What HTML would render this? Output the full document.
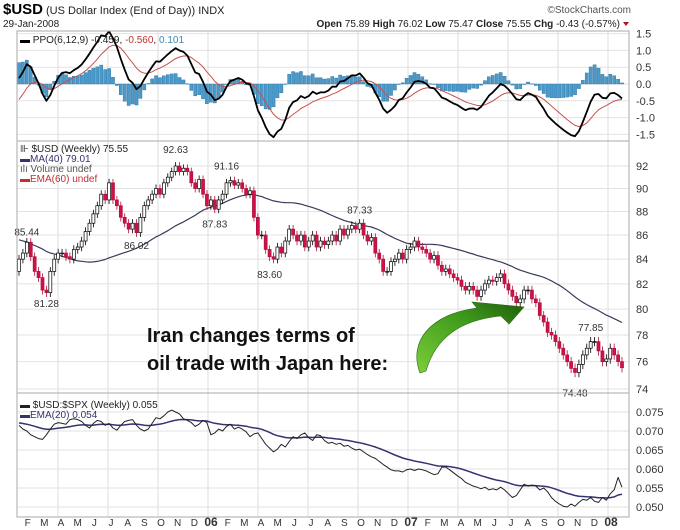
<!DOCTYPE html>
<html><head><meta charset="utf-8"><style>
html,body{margin:0;padding:0;background:#fff;}
svg{display:block;font-family:"Liberation Sans",sans-serif;}
</style></head><body>
<svg id="chart" width="680" height="530" viewBox="0 0 680 530" xmlns="http://www.w3.org/2000/svg">
<defs><linearGradient id="ag" x1="0" y1="1" x2="1" y2="0"><stop offset="0" stop-color="#7ccf3a"/><stop offset="0.6" stop-color="#3f9a1c"/><stop offset="1" stop-color="#1f5e0c"/></linearGradient></defs>
<g>
<text x="3" y="14" font-size="15" font-weight="bold" fill="#000">$USD</text>
<text x="46" y="14" font-size="11" fill="#222">(US Dollar Index (End of Day))  INDX</text>
<text x="631" y="13" font-size="10" fill="#555" text-anchor="end">©StockCharts.com</text>
<text x="3" y="27" font-size="10" fill="#222">29-Jan-2008</text>
<text x="620" y="27" font-size="10" fill="#222" text-anchor="end"><tspan font-weight="bold">Open</tspan> 75.89 <tspan font-weight="bold">High</tspan> 76.02 <tspan font-weight="bold">Low</tspan> 75.47 <tspan font-weight="bold">Close</tspan> 75.55 <tspan font-weight="bold">Chg</tspan> -0.43 (-0.57%)</text>
<path d="M623,22 L629,22 L626,26 Z" fill="#b01030"/>
</g>
<g id="grid"></g>
<g id="marks"></g>
<g id="axes"></g>
<g>
<text x="147" y="342" font-size="20" font-weight="bold" fill="#111">Iran changes terms of</text>
<text x="147" y="370" font-size="20" font-weight="bold" fill="#111">oil trade with Japan here:</text>
<path d="M420,373 C408,342 430,314 477,308 L472,302 L524,307 L509,324 L501,316 C462,320 436,336 426,371 Z" fill="url(#ag)" stroke="#2a6a10" stroke-width="0.6"/>
</g>
<g>
<text x="20" y="43" font-size="10" fill="#222"><tspan fill="#000">▬</tspan> PPO(6,12,9) -0.459, <tspan fill="#c03030">-0.560</tspan>, <tspan fill="#3a8ab0">0.101</tspan></text>
<text x="20" y="152" font-size="10" fill="#222">⊪ $USD (Weekly) 75.55</text>
<text x="20" y="162" font-size="10" fill="#333370">▬MA(40) 79.01</text>
<text x="20" y="172" font-size="10" fill="#555">ılı Volume undef</text>
<text x="20" y="182" font-size="10" fill="#c03030">▬EMA(60) undef</text>
<text x="20" y="408" font-size="10" fill="#222">▬ $USD:$SPX (Weekly) 0.055</text>
<text x="20" y="418" font-size="10" fill="#333370">▬EMA(20) 0.054</text>
</g>
</svg>
<script>
const priorCloses=[89,88,89,90,89,88,88,89,88,87,88,89,88,88,89,88,87,88,88,87,87,86,86,85,85,84,83,83,82,82,81,81,82,81,81,82,83,83,84,83];
const closes=[84,84.5,85.4,84.2,83,82.5,81.5,81.3,83,84,84.5,84.5,84.2,84,84.8,85,85.5,86.3,87,87.8,88.5,89.5,89,90.5,89,88.5,87.5,87,86.5,87,86.2,87.5,88.5,89,89.5,90,89.5,90.5,91,91.5,92,91.5,91.8,91.5,90.5,90,90.8,89.5,88.5,89,88.2,89,89.5,90.5,90.7,90.3,90.5,90,89.5,89.8,87.5,86,86,84.8,84.2,84,85,84.5,85.5,86.5,86,85.5,86,85,85.5,86,85,85.5,85.2,85.5,86,85.5,86.5,86,86.5,86.8,86.5,87,86,85.5,85.8,84.5,84,83,83,83.8,84,84.5,84,84.8,85,85.5,85,84.8,84.5,84,84.3,83.5,83,83.2,82.8,82.5,82.3,81.8,81.5,81.8,81.5,81,81.5,82,82.3,82.2,82.5,82.8,82,81.5,81,80.5,80.8,81.5,81.5,80.8,80.5,79.5,79,78.2,78,77.5,77,76.5,76,75.5,75.2,75.8,76.5,77,77.5,77.5,76.8,76,76.2,77,76.5,76,75.55];
const ratio=[.0715,.0705,.070,.069,.0685,.068,.0678,.069,.0705,.0718,.0722,.072,.0718,.073,.0732,.073,.0725,.0715,.0708,.072,.0728,.0725,.0715,.072,.0708,.0702,.0715,.0725,.0728,.073,.0715,.0705,.070,.0705,.072,.0735,.0732,.074,.075,.0755,.075,.0745,.0732,.0728,.0722,.0712,.0718,.0728,.0722,.069,.0695,.0705,.070,.0712,.0718,.0705,.071,.0705,.0698,.0685,.0692,.0695,.068,.0665,.0655,.0645,.0652,.0665,.0658,.0672,.0685,.068,.069,.0695,.0682,.0675,.069,.0688,.0675,.0668,.067,.0665,.0668,.066,.0662,.0655,.065,.0652,.0645,.0638,.0632,.0628,.062,.0612,.0605,.0598,.0595,.0595,.0592,.0598,.0600,.0596,.060,.0598,.0595,.059,.0585,.0588,.0605,.0605,.0598,.059,.0582,.0575,.0565,.056,.0555,.0552,.0548,.0552,.0545,.0548,.0545,.0552,.0545,.0535,.0525,.053,.0545,.056,.0555,.0558,.0555,.0545,.055,.054,.0525,.0515,.0508,.0502,.050,.0508,.0502,.0512,.052,.0518,.0525,.0515,.0512,.0525,.0518,.0535,.0545,.0578,.0552];
const monthLabels=['F','M','A','M','J','J','A','S','O','N','D','06','F','M','A','M','J','J','A','S','O','N','D','07','F','M','A','M','J','J','A','S','O','N','D','08'];
const ppoTicks=[1.5,1.0,0.5,0.0,-0.5,-1.0,-1.5];
const priceTicks=[92,90,88,86,84,82,80,78,76,74];
const ratioTicks=[0.075,0.070,0.065,0.060,0.055,0.050];
const peakLabels=[['85.44',2,85.44,-1],['81.28',7,81.28,1],['92.63',40,92.63,-1],['86.02',30,86.02,1],['91.16',53,91.16,-1],['87.83',50,87.83,1],['87.33',87,87.33,-1],['83.60',64,83.60,1],['77.85',146,77.85,-1],['74.48',142,74.48,1]];

const NS='http://www.w3.org/2000/svg';
const L=17,R=629,X0=19,X1=622;
const n=closes.length;
const xw=i=>X0+i*(X1-X0)/(n-1);
const xm=k=>208+(k-11)*200/12;
const yP=v=>84-v*33.6;
const yM=v=>166+(Math.log(92)-Math.log(v))*1024;
const yR=v=>412+(0.075-v)/0.025*95;
function el(tag,attrs,parent){const e=document.createElementNS(NS,tag);for(const k in attrs)e.setAttribute(k,attrs[k]);parent.appendChild(e);return e;}
const grid=document.getElementById('grid'),marks=document.getElementById('marks'),axes=document.getElementById('axes');

// panels
[[31,141],[141,393],[393,517]].forEach(([t,b])=>{
  const r=el('rect',{x:L,y:t,width:R-L,height:b-t,fill:'none',stroke:'#aaa','stroke-width':1},axes);
  
  
});
// vertical gridlines quarterly
for(let k=2;k<36;k+=3){const x=xm(k+0.0);
  const g=el('line',{x1:x,x2:x,y1:31,y2:517,stroke:'#ddd'},grid);
  
  }
function hTicks(ticks,fy,fmt,top,bot){ticks.forEach(t=>{const y=fy(t);
  if(y>top+1&&y<bot-1){const g=el('line',{x1:L,x2:R,y1:y,y2:y,stroke:'#e2e2e2'},grid);
  
  }
  const tx=el('text',{x:636,y:y+4,'font-size':11,fill:'#333'},axes);tx.textContent=fmt(t);
  
  });}
hTicks(ppoTicks,yP,t=>t.toFixed(1),31,141);
hTicks(priceTicks,yM,t=>String(t),141,393);
hTicks(ratioTicks,yR,t=>t.toFixed(3),393,517);
monthLabels.forEach((m,k)=>{const isY=/\d/.test(m);
  const t=el('text',{x:xm(k)+3,y:526,'font-size':isY?12:10,'font-weight':isY?'bold':'normal',fill:'#333','text-anchor':'middle'},axes);
  t.textContent=m;
  
  });

// indicators
function ema(arr,p,seed){const a=2/(p+1);let e=seed!==undefined?seed:arr[0];return arr.map(v=>(e=e+a*(v-e)));}
const all=priorCloses.concat(closes);const np=priorCloses.length;
const e6=ema(all,6),e12=ema(all,12);
const ppoAll=all.map((v,i)=>(e6[i]-e12[i])/e12[i]*100);
const sigAll=ema(ppoAll,9);
const ppo=ppoAll.slice(np),sig=sigAll.slice(np);
const ma40=closes.map((v,i)=>{const s=all.slice(np+i-39,np+i+1);return s.reduce((a,b)=>a+b,0)/s.length;});
const rEma=ema(ratio,20,0.0722);

function line(vals,fy,color,w,name){const d=vals.map((v,i)=>(i?'L':'M')+xw(i).toFixed(1)+','+fy(v).toFixed(1)).join(' ');
  const p=el('path',{d:d,fill:'none',stroke:color,'stroke-width':w,'stroke-linejoin':'round'},marks);
  
  }
// histogram
ppo.forEach((v,i)=>{const h=v-sig[i];const y0=yP(0),y1=yP(h);
  const b=el('rect',{x:xw(i)-1.6,y:Math.min(y0,y1),width:3.2,height:Math.max(0.5,Math.abs(y1-y0)),fill:'#4a9acb',stroke:'#2b6f9a','stroke-width':0.4},marks);
  
  });
line(sig,yP,'#c85050',1,'ppo-signal-line');
line(ppo,yP,'#000',1.8,'ppo-line');
line(ma40,yM,'#3a3a5a',1.2,'ma40-line');
// candles
closes.forEach((c,i)=>{const o=i?closes[i-1]:priorCloses[np-1];const up=c>=o;
  const hi=Math.max(o,c)+0.35,lo=Math.min(o,c)-0.35;const x=xw(i);
  const w=el('line',{x1:x,x2:x,y1:yM(hi),y2:yM(lo),stroke:up?'#000':'#b0103a','stroke-width':0.8},marks);
  
  
  const yt=yM(Math.max(o,c)),yb=yM(Math.min(o,c));
  const b=el('rect',{x:x-1.5,y:yt,width:3,height:Math.max(0.8,yb-yt),fill:up?'#fff':'#d0104a',stroke:up?'#000':'#b0103a','stroke-width':0.7},marks);
  
  });
peakLabels.forEach(([txt,i,v,dir])=>{const y=yM(v)+(dir<0?-6:14);
  const t=el('text',{x:xw(i),y:y,'font-size':10,fill:'#333','text-anchor':'middle'},marks);
  t.textContent=txt;
  
  });
line(rEma,yR,'#333370',1.5,'ratio-ema-line');
line(ratio,yR,'#222',1,'ratio-line');
</script>
</body></html>
